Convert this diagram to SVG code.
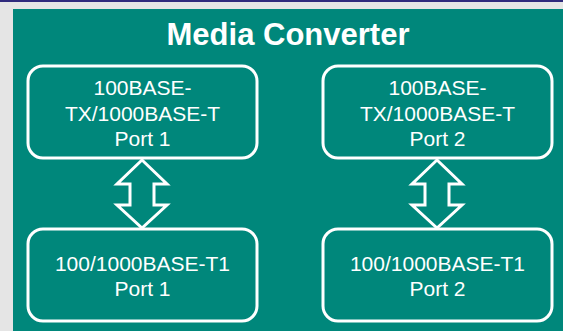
<svg xmlns="http://www.w3.org/2000/svg" width="563" height="331" viewBox="0 0 563 331">
<style>
.box{fill:#00877b;stroke:#ffffff;stroke-width:3}
.t{font-family:"Liberation Sans",Arial,sans-serif;fill:#ffffff;text-anchor:middle}
.lbl{font-size:21px}
.title{font-size:31px;font-weight:bold}
.arr{fill:#00877b;stroke:#ffffff;stroke-width:3;stroke-linejoin:miter}
</style>
<rect x="0" y="0" width="563" height="331" fill="#e5e5e5"/>
<rect x="0" y="0" width="563" height="2" fill="#2f2a7c"/>
<rect x="13" y="9" width="550" height="322" fill="#00877b"/>
<text class="t title" x="288" y="45">Media Converter</text>
<g id="tx1">
<rect class="box" x="28" y="66" width="229" height="92" rx="15"/>
<text class="t lbl" x="142.5" y="95">100BASE-</text>
<text class="t lbl" x="142.5" y="120.5">TX/1000BASE-T</text>
<text class="t lbl" x="142.5" y="145.5">Port 1</text>
</g>
<g id="tx2">
<rect class="box" x="323" y="66" width="229" height="92" rx="15"/>
<text class="t lbl" x="437.5" y="95">100BASE-</text>
<text class="t lbl" x="437.5" y="120.5">TX/1000BASE-T</text>
<text class="t lbl" x="437.5" y="145.5">Port 2</text>
</g>
<g id="t1p1">
<rect class="box" x="28" y="229" width="229" height="92" rx="15"/>
<text class="t lbl" x="142.5" y="271">100/1000BASE-T1</text>
<text class="t lbl" x="142.5" y="295.5">Port 1</text>
</g>
<g id="t1p2">
<rect class="box" x="323" y="229" width="229" height="92" rx="15"/>
<text class="t lbl" x="437.5" y="271">100/1000BASE-T1</text>
<text class="t lbl" x="437.5" y="295.5">Port 2</text>
</g>
<g id="connectors">
<path class="arr" d="M142,160 L167,184 L154,184 L154,205 L167,205 L142,228 L117,205 L130,205 L130,184 L117,184 Z"/>
<path class="arr" d="M437,160 L462,184 L449,184 L449,205 L462,205 L437,228 L412,205 L425,205 L425,184 L412,184 Z"/>
</g>
</svg>
